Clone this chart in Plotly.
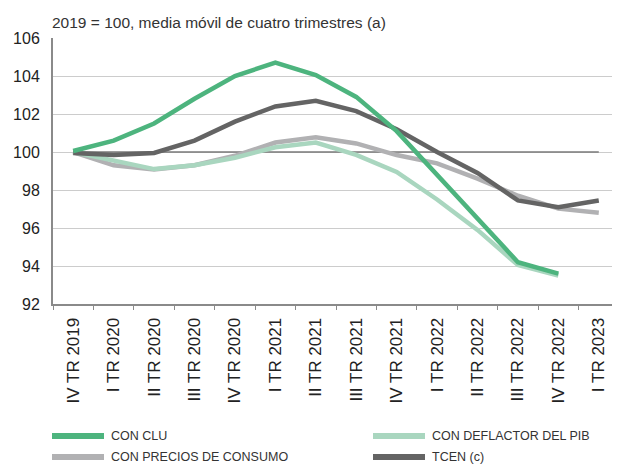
import plotly.graph_objects as go

categories = ["IV TR 2019", "I TR 2020", "II TR 2020", "III TR 2020", "IV TR 2020",
              "I TR 2021", "II TR 2021", "III TR 2021", "IV TR 2021", "I TR 2022",
              "II TR 2022", "III TR 2022", "IV TR 2022", "I TR 2023"]

con_clu = [100.05, 100.6, 101.5, 102.8, 104.0, 104.7, 104.05, 102.9, 101.1, 98.8, 96.5, 94.2, 93.6, None]
con_deflactor = [100.0, 99.55, 99.1, 99.3, 99.7, 100.25, 100.5, 99.85, 98.95, 97.5, 95.9, 94.05, 93.5, None]
con_precios = [100.0, 99.3, 99.08, 99.3, 99.8, 100.5, 100.78, 100.45, 99.84, 99.4, 98.6, 97.7, 97.02, 96.8]
tcen = [99.95, 99.84, 99.95, 100.6, 101.6, 102.4, 102.7, 102.15, 101.2, 100.0, 98.9, 97.45, 97.1, 97.45]
base = [100] * len(categories)

series = [
    ("CON CLU", con_clu, "#4db47e"),
    ("CON DEFLACTOR DEL PIB", con_deflactor, "#a9d6bf"),
    ("CON PRECIOS DE CONSUMO", con_precios, "#b1b1b3"),
    ("TCEN (c)", tcen, "#646464"),
]

# page has an 8px body margin: figure spans 8..620 x 8..464
OFF = 8
W, H = 620 - OFF, 464 - OFF
L, R, T, B = 53 - OFF, 1, 38 - OFF, 160
PW, PH = W - L - R, H - T - B

def px(x):
    return (x - OFF - L) / PW

def py(y):
    return (H - B - (y - OFF)) / PH

fig = go.Figure()
fig.add_trace(go.Scatter(x=categories, y=base, mode="lines",
                         line=dict(color="#7a7a7a", width=1.5), showlegend=False,
                         hoverinfo="skip"))
order = [2, 1, 3, 0]
for i in order:
    name, vals, col = series[i]
    fig.add_trace(go.Scatter(x=categories, y=vals, mode="lines", name=name,
                             line=dict(color=col, width=4.5), showlegend=False))

# manual legend
legend_pos = [(52, 436), (373, 436), (52, 457), (373, 457)]
for (name, vals, col), (lx, ly) in zip(series, legend_pos):
    fig.add_shape(type="line", xref="paper", yref="paper",
                  x0=px(lx), x1=px(lx + 52), y0=py(ly), y1=py(ly),
                  line=dict(color=col, width=6))
    fig.add_annotation(xref="paper", yref="paper", x=px(lx + 57), y=py(ly),
                       text=name, showarrow=False, xanchor="left", yanchor="middle",
                       font=dict(family="Liberation Sans, Arial", size=12.5, color="#333333"))

fig.add_annotation(xref="paper", yref="paper", x=px(50), y=py(23),
                   text="2019 = 100, media móvil de cuatro trimestres (a)",
                   showarrow=False, xanchor="left", yanchor="middle",
                   font=dict(family="Liberation Sans, Arial", size=15.5, color="#333333"))

fig.update_layout(
    width=W, height=H,
    margin=dict(l=L, r=R, t=T, b=B),
    paper_bgcolor="white", plot_bgcolor="white",
    font=dict(family="Liberation Sans, Arial", color="#222222"),
    showlegend=False,
)
fig.update_xaxes(
    type="category", range=[-0.5, 13.5],
    showgrid=False, showline=True, linecolor="#8a8a8a", linewidth=2,
    ticks="outside", tickson="boundaries", ticklen=4, tickcolor="#8a8a8a", tickwidth=1,
    tickangle=-90, tickfont=dict(size=17, color="#222222"),
    ticklabelstandoff=5,
)
fig.update_yaxes(
    range=[92, 106], dtick=2, tick0=92,
    showgrid=True, gridcolor="#cccccc", gridwidth=1,
    showline=True, linecolor="#8a8a8a", linewidth=2,
    ticks="", tickfont=dict(size=16, color="#222222"),
    ticklabelstandoff=8, zeroline=False,
)

fig.write_html("out.html")
